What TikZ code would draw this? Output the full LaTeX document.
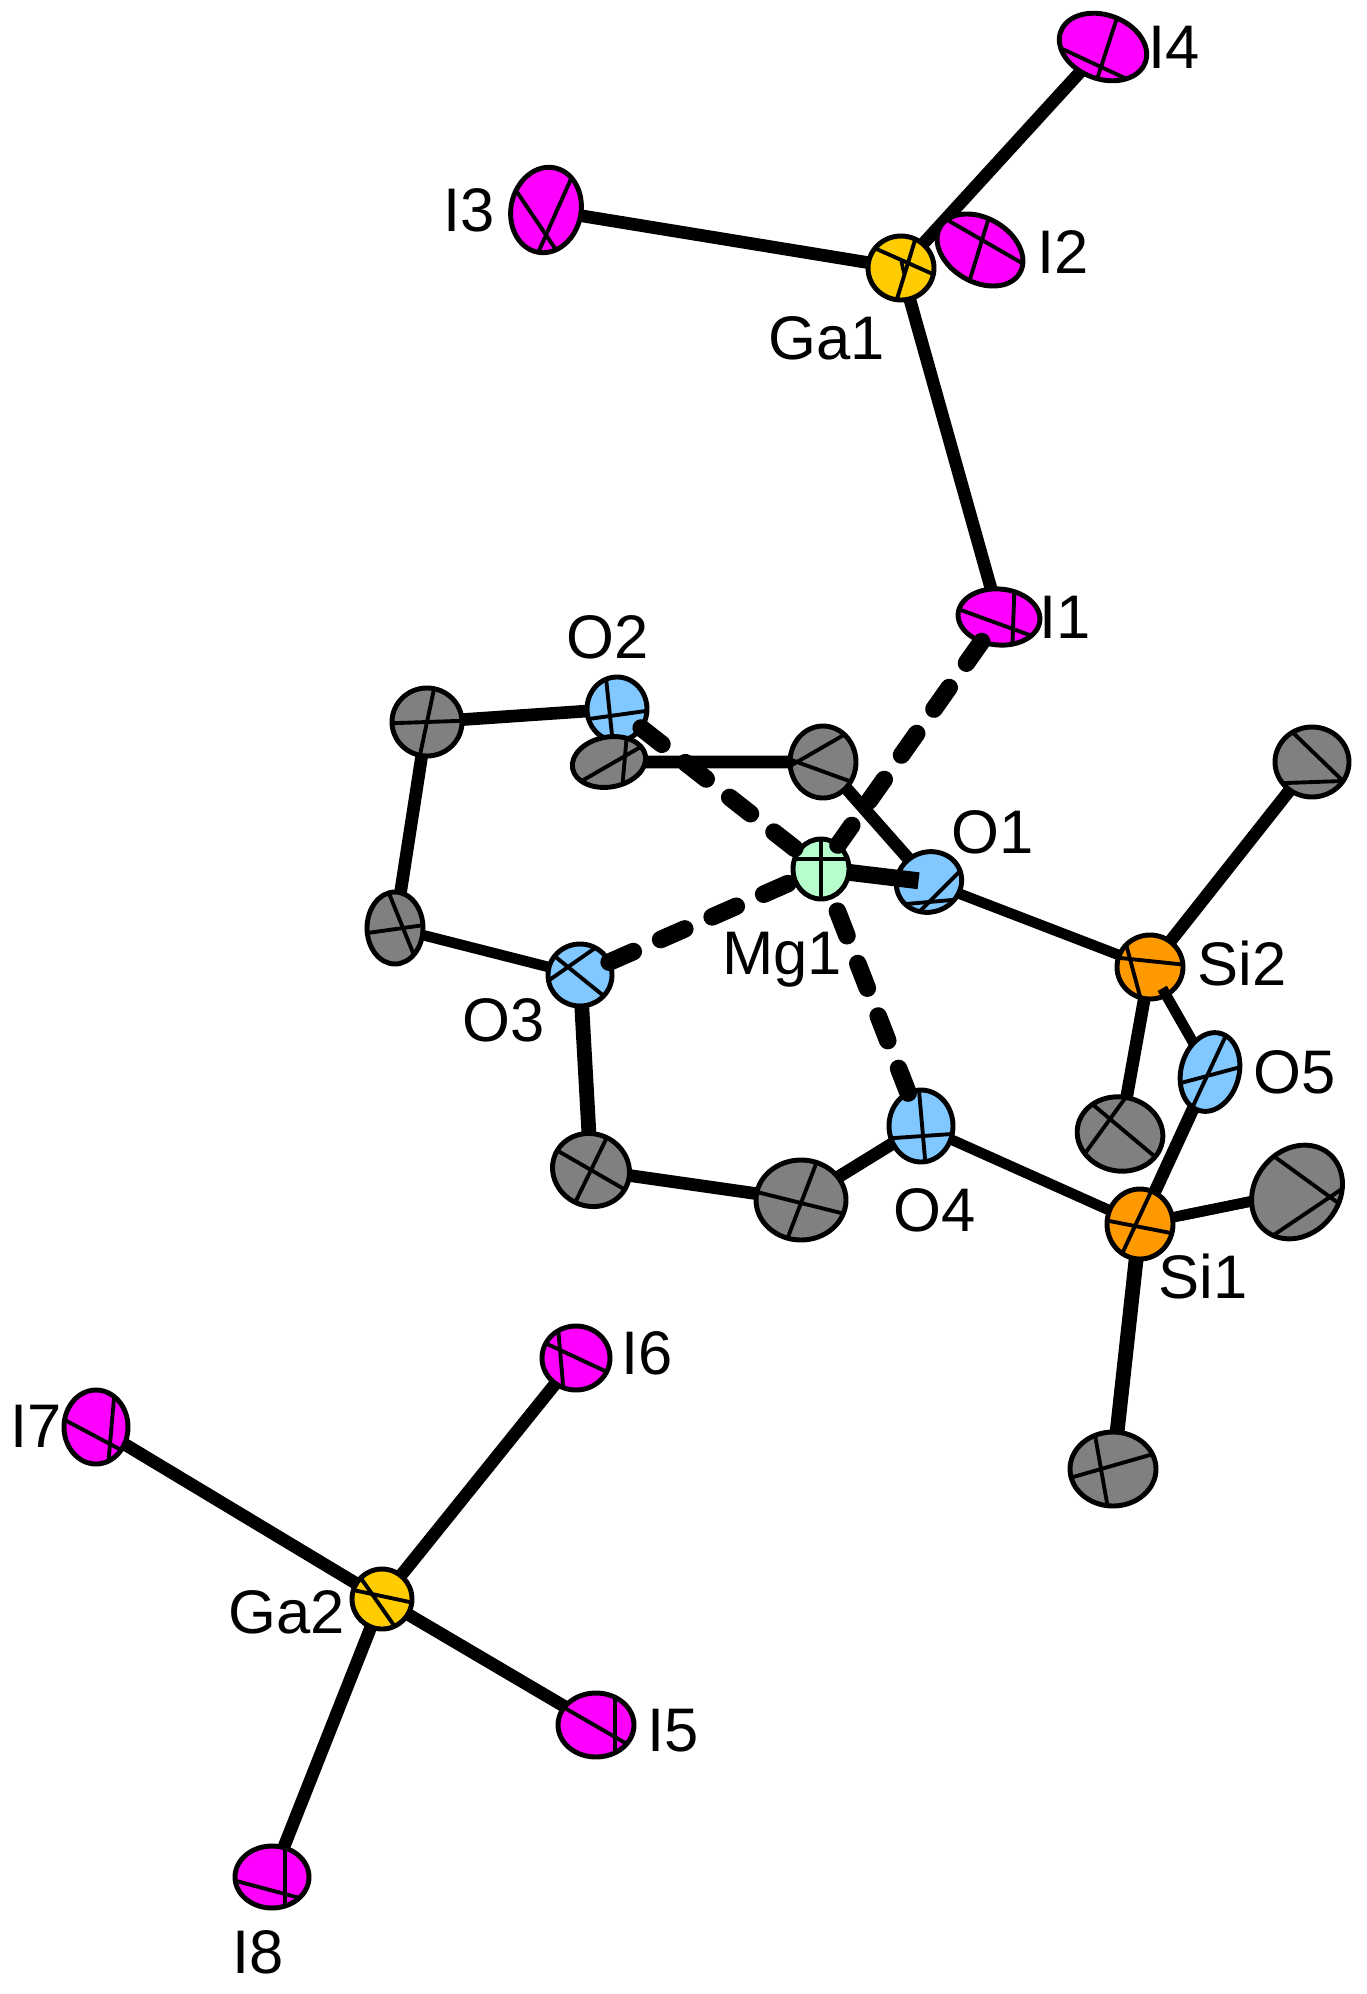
\documentclass[tikz,border=0pt]{standalone}
\usepackage{fontspec}
\setmainfont{Liberation Sans}
\usetikzlibrary{shapes.geometric,backgrounds}
\definecolor{iod}{HTML}{FF00FF}
\definecolor{gal}{HTML}{FFCC00}
\definecolor{sil}{HTML}{FF9900}
\definecolor{oxy}{HTML}{80C8FF}
\definecolor{mag}{HTML}{B6FFCC}
\definecolor{car}{HTML}{808080}
\tikzset{
  atomshape/.style={ellipse,draw=black,line width=1.4pt,inner sep=0pt,outer sep=0pt},
  octant/.style={line width=1.1pt,line cap=butt},
  bond/.style={line width=3.6pt,line cap=butt},
  thinbond/.style={line width=3pt,line cap=butt},
  thickbond/.style={line width=4.2pt,line cap=butt},
  contact/.style={line width=5pt,line cap=round,dash pattern=on 7.5pt off 8.5pt},
  lab/.style={inner sep=0pt,font=\fontsize{17.5pt}{20pt}\selectfont}
}
\begin{document}
\begin{tikzpicture}[x=0.01cm,y=-0.01cm,line join=round]
\useasboundingbox (0,0) rectangle (1366,1994);
\foreach \n/\x/\y/\w/\h/\r/\col/\p/\q/\cx/\cy in {
  I4/1103/47/45/32/-20/iod/25/108/-2/20,
  I3/546/210/35/43/-12/iod/56/114/0/25,
  I2/980/250/46/32/-30/iod/30/107/2/-10,
  I1/999/617/41/28/-5/iod/20/92/14/12,
  Ga1/901/268/33/32/0/gal/24/107/7/-5,
  O2/617/709/30/32/0/oxy/-8/84/-7/7,
  C1/427/722/35/34/0/car/-2/102/0/0,
  C2/609/762/37/25/10/car/-30/95/16/-6,
  C3/823/762/33/36/0/car/20/-30/-26/0,
  Mg1/821/869/28/30/0/mag/0/90/0/-10,
  O1/929/882/33/30/20/oxy/-5/135/0/20,
  O3/580/975/32/31/0/oxy/39/-35/-12/-8,
  C4/395/928/28/36/0/car/68/-8/8/0,
  C5/591/1170/39/36/-25/car/30/116/0/0,
  C6/801/1200/45/40/0/car/14/111/0/3,
  O4/921/1126/32/36/0/oxy/-4/85/2/10,
  C7/1312/762/37/35/0/car/44/178/31/19,
  Si2/1150/967/33/32/0/sil/6/75/-20/-8,
  C8/1120/1134/43/37/-10/car/40/126/-10/-15,
  O5/1210/1072/29/40/-15/oxy/115/-15/-3/4,
  Si1/1140/1224/33/35/0/sil/11/115/-5/2,
  C9/1297/1192/50/42/50/car/146/36/33/5,
  C10/1113/1469/43/37/0/car/-16/80/-12/0,
  I6/576/1358/34/32/0/iod/25/85/-16/-8,
  I7/96/1427/32/37/0/iod/28/95/14/17,
  Ga2/382/1599/30/30/0/gal/12/55/-10/-5,
  I5/596/1725/38/32/0/iod/30/90/19/12,
  I8/272/1877/37/31/0/iod/15/90/13/17}
{\node[atomshape,fill=\col,rotate=\r,minimum width={2*\w*0.01cm},minimum height={2*\h*0.01cm}] (\n) at (\x,\y) {};
\begin{scope}
\clip[rotate around={\r:(\x,\y)}] (\x,\y) ellipse[x radius=\w,y radius=\h];
\draw[octant] (\x+\cx,\y+\cy) ++(\p:90) -- ++(\p+180:180);
\draw[octant] (\x+\cx,\y+\cy) ++(\q:90) -- ++(\q+180:180);
\end{scope}}
\begin{scope}[on background layer]
\foreach \a/\b in {Ga1/I3, Ga1/I4, Ga1/I1, C1/O2, C1/C4, C2/C3, O1/C3,
  C5/C6, C6/O4, Si2/C7, Si2/C8, Si1/O5, Ga2/I5, Ga2/I6, Ga2/I7, Ga2/I8}
{\draw[bond] (\a) -- (\b);}
\foreach \a/\b in {C4/O3, O1/Si2, O4/Si1, Si1/C9}
{\draw[thinbond] (\a) -- (\b);}
\foreach \a/\b in {O3/C5, Si1/C10}
{\draw[thickbond] (\a) -- (\b);}
\end{scope}
\draw[bond,shorten >=22pt] (Ga1.center) -- (I2.center);
\draw[thinbond,shorten <=7pt] (Si2.center) -- (O5);
\draw[thinbond,shorten >=12pt] (C9) -- (Si1.center);
\draw[line width=4.8pt,line cap=butt,shorten >=3pt] (Mg1) -- (O1.center);
\foreach \a in {I1, O2, O3, O4}
{\draw[contact] (\a) -- (Mg1);}
\foreach \n/\x/\y in {I4/1174/47, I3/469/210, I2/1063/252, Ga1/827/338, I1/1065/617,
  O2/608/637, O1/993/832, Mg1/782/960, Si2/1242/963, O3/504/1020, O5/1295/1072,
  O4/935/1210, Si1/1203/1276, I6/647/1353, I7/36/1426, Ga2/287/1612, I5/673/1731, I8/258/1952}
{\node[lab] (l\n) at (\x,\y) {\n};}
\end{tikzpicture}
\end{document}
